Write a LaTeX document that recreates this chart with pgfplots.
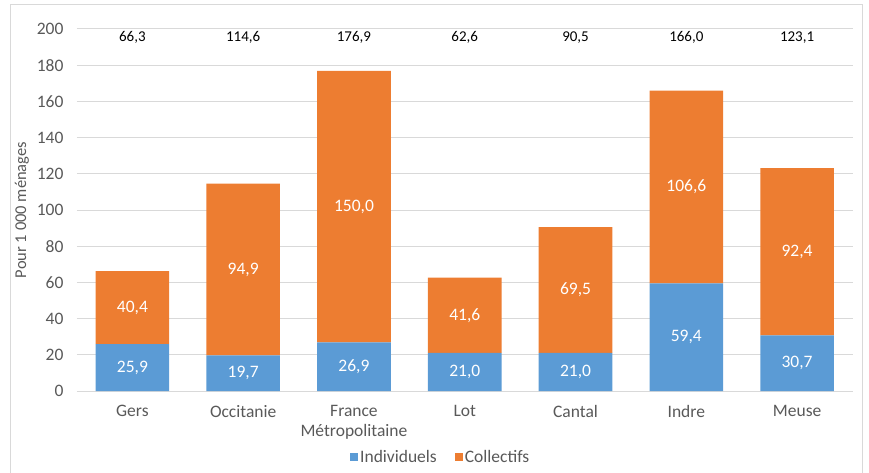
\documentclass[border=0pt]{standalone}
\usepackage{pgfplots}
\pgfplotsset{compat=1.18}
\usepackage{pgfplotstable}
\usepackage{fontspec}
\setmainfont{Carlito}
\definecolor{cblue}{HTML}{5B9BD5}
\definecolor{corange}{HTML}{ED7D31}
\definecolor{cgrid}{HTML}{D9D9D9}
\definecolor{ctext}{HTML}{595959}
\pgfplotstableread{
x ind col tot
0 25.9 40.4 66.3
1 19.7 94.9 114.6
2 26.9 150.0 176.9
3 21.0 41.6 62.6
4 21.0 69.5 90.5
5 59.4 106.6 166.0
6 30.7 92.4 123.1
}\data
\newcommand{\tickfont}{\fontsize{17.5}{19.5}\selectfont}
\begin{document}
\begin{tikzpicture}
\path[use as bounding box] (-77pt,-81pt) rectangle (792pt,391pt);
\draw[cgrid, line width=1pt] (-66pt,-100pt) -- (-66pt,386pt) -- (785pt,386pt) -- (785pt,-100pt);
\begin{axis}[
  at={(0,0)}, anchor=south west, scale only axis,
  width=775.5pt, height=362pt,
  ybar stacked, bar width=73.6pt,
  xmin=-0.5, xmax=6.5, ymin=0, ymax=200,
  ytick={0,20,...,200},
  xtick={0,1,2,3,4,5,6},
  xticklabels={Gers,Occitanie,{France\\Métropolitaine},Lot,Cantal,Indre,Meuse},
  axis line style={draw=none}, major tick length=0pt,
  ymajorgrids, grid style={cgrid, line width=1pt},
  /pgf/number format/assume math mode=true,
  tick label style={font=\tickfont, text=ctext},
  xticklabel style={align=center, yshift=-11pt},
  yticklabel style={xshift=-10pt},
  ylabel={Pour 1 000 ménages},
  every axis y label/.style={at={(axis description cs:-0.071,0.5)}, rotate=90, anchor=center, font=\fontsize{16.5}{18}\selectfont, text=ctext},
  legend style={at={(0.469,-0.182)}, anchor=center, draw=none, legend columns=2, font=\tickfont, text=ctext,
    /tikz/every even column/.append style={column sep=16pt}},
  legend image code/.code={\fill[#1] (0pt,-4pt) rectangle (8pt,4pt);},
]
\addplot[fill=cblue, draw=none] table[x=x,y=ind]{\data};
\addplot[fill=corange, draw=none] table[x=x,y=col]{\data};
\legend{Individuels, Collectifs}
\end{axis}
\begin{axis}[
  at={(0,0)}, anchor=south west, scale only axis,
  width=775.5pt, height=362pt,
  xmin=-0.5, xmax=6.5, ymin=0, ymax=200,
  hide axis, clip=false,
  /pgf/number format/fixed, /pgf/number format/fixed zerofill,
  /pgf/number format/precision=1, /pgf/number format/use comma,
  /pgf/number format/assume math mode=true,
]
\addplot[draw=none, mark=none, nodes near coords, point meta=explicit,
  every node near coord/.append style={anchor=center, text=white, font=\tickfont}]
  table[x=x, y expr=\thisrow{ind}/2, meta=ind]{\data};
\addplot[draw=none, mark=none, nodes near coords, point meta=explicit,
  every node near coord/.append style={anchor=center, text=white, font=\tickfont}]
  table[x=x, y expr=\thisrow{ind}+\thisrow{col}/2, meta=col]{\data};
\addplot[draw=none, mark=none, nodes near coords, point meta=explicit,
  every node near coord/.append style={anchor=center, text=black, font=\fontsize{15}{17}\selectfont}]
  table[x=x, y expr=195.3, meta=tot]{\data};
\end{axis}
\end{tikzpicture}
\end{document}
